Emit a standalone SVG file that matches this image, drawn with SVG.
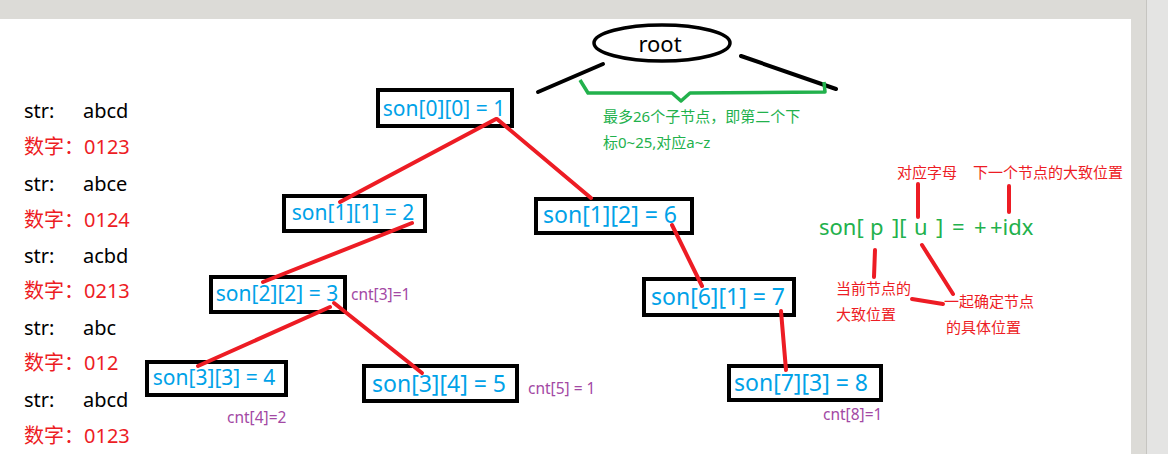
<svg xmlns="http://www.w3.org/2000/svg" width="1168" height="454" viewBox="0 0 1168 454">
<style>
.box{fill:#fff;stroke:#000;stroke-width:4}
.lbl{font-family:"Noto Sans","Noto Sans CJK SC",sans-serif;fill:#00a2e8;text-anchor:middle}
.red{stroke:#ed1c24;stroke-width:4;stroke-linecap:round;fill:none}
.blk{stroke:#000;stroke-width:4;stroke-linecap:round;fill:none}
.t{font-family:"Noto Sans","Noto Sans CJK SC",sans-serif}
.s{font-size:20px;fill:#000}
.n{font-size:20px;fill:#ed1c24}
.cnt{font-size:15.5px;fill:#a349a4}
.ann{font-size:15px;fill:#ed1c24}
.grn{fill:#22b14c}
</style>
<rect width="1168" height="454" fill="#fff"/>
<rect x="0" y="0" width="1168" height="19" fill="#dcdbd7"/>
<rect x="1131" y="0" width="16" height="454" fill="#dcdbd7"/>
<rect x="1147" y="0" width="21" height="454" fill="#e4e4e3"/>
<line x1="1146.5" y1="0" x2="1146.5" y2="454" stroke="#c6c5c1" stroke-width="1"/>

<g id="left-list" class="t">
<text x="24" y="118" class="s">str:</text><text x="83" y="118" class="s">abcd</text>
<text x="24" y="154" class="n">数字：</text><text x="84" y="154" class="n">0123</text>
<text x="24" y="191" class="s">str:</text><text x="83" y="191" class="s">abce</text>
<text x="24" y="227" class="n">数字：</text><text x="84" y="227" class="n">0124</text>
<text x="24" y="263" class="s">str:</text><text x="83" y="263" class="s">acbd</text>
<text x="24" y="298" class="n">数字：</text><text x="84" y="298" class="n">0213</text>
<text x="24" y="335" class="s">str:</text><text x="83" y="335" class="s">abc</text>
<text x="24" y="370" class="n">数字：</text><text x="84" y="370" class="n">012</text>
<text x="24" y="407" class="s">str:</text><text x="83" y="407" class="s">abcd</text>
<text x="24" y="443" class="n">数字：</text><text x="84" y="443" class="n">0123</text>
</g>

<g id="root">
<ellipse cx="662" cy="43" rx="68" ry="18" fill="#fff" stroke="#000" stroke-width="3.5"/>
<text x="660" y="52" class="t" font-size="22" text-anchor="middle" fill="#000">root</text>
</g>

<g id="root-branches">
<line class="blk" x1="603" y1="64" x2="538" y2="92"/>
<line class="blk" x1="741" y1="56" x2="836" y2="89"/>
<path d="M580 80 L588 93 L672 93 L681 101 L690 93 L825 92 L824 82" fill="none" stroke="#22b14c" stroke-width="3.5" stroke-linejoin="round"/>
<text x="603" y="122" class="t grn" font-size="15">最多26个子节点，即第二个下</text>
<text x="603" y="148" class="t grn" font-size="15">标0~25,对应a~z</text>
</g>

<g id="n1"><rect class="box" x="378" y="90" width="134" height="36"/><text class="lbl" x="444" y="116" font-size="21">son[0][0] = 1</text></g>
<g id="n2"><rect class="box" x="284" y="196" width="141" height="35"/><text class="lbl" x="353" y="220" font-size="21">son[1][1] = 2</text></g>
<g id="n6"><rect class="box" x="536" y="199" width="156" height="34"/><text class="lbl" x="610" y="223" font-size="23">son[1][2] = 6</text></g>
<g id="n3"><rect class="box" x="211" y="277" width="134" height="35"/><text class="lbl" x="277" y="301" font-size="21">son[2][2] = 3</text></g>
<g id="n4"><rect class="box" x="147" y="362" width="139" height="33"/><text class="lbl" x="214" y="385" font-size="21">son[3][3] = 4</text></g>
<g id="n5"><rect class="box" x="364" y="366" width="153" height="35"/><text class="lbl" x="439" y="392" font-size="23">son[3][4] = 5</text></g>
<g id="n7"><rect class="box" x="644" y="279" width="150" height="36"/><text class="lbl" x="718" y="305" font-size="23">son[6][1] = 7</text></g>
<g id="n8"><rect class="box" x="729" y="366" width="152" height="34"/><text class="lbl" x="801" y="391" font-size="23">son[7][3] = 8</text></g>

<g id="connectors">
<line class="red" x1="496" y1="119" x2="340" y2="202"/>
<line class="red" x1="497" y1="119" x2="591" y2="198"/>
<line class="red" x1="412" y1="223" x2="263" y2="282"/>
<line class="red" x1="330" y1="307" x2="198" y2="366"/>
<line class="red" x1="334" y1="303" x2="422" y2="373"/>
<line class="red" x1="672" y1="225" x2="702" y2="286"/>
<line class="red" x1="781" y1="311" x2="786" y2="370"/>
</g>

<g id="cnt-labels" class="t">
<text x="351" y="300" class="cnt">cnt[3]=1</text>
<text x="528" y="394" class="cnt">cnt[5] = 1</text>
<text x="227" y="423" class="cnt">cnt[4]=2</text>
<text x="823" y="420" class="cnt">cnt[8]=1</text>
</g>

<g id="formula" class="t">
<text x="819" y="235" font-size="22" class="grn">son[</text>
<text x="870" y="235" font-size="22" class="grn">p</text>
<text x="892" y="235" font-size="22" class="grn">][</text>
<text x="914" y="235" font-size="22" class="grn">u</text>
<text x="936" y="235" font-size="22" class="grn">]</text>
<text x="952" y="235" font-size="22" class="grn">=</text>
<text x="974" y="235" font-size="22" class="grn">+</text>
<text x="990" y="235" font-size="22" class="grn">+idx</text>
<text x="897" y="178" class="ann">对应字母</text>
<text x="973" y="178" class="ann">下一个节点的大致位置</text>
<text x="836" y="294" class="ann">当前节点的</text>
<text x="836" y="320" class="ann">大致位置</text>
<text x="944" y="307" class="ann">一起确定节点</text>
<text x="946" y="333" class="ann">的具体位置</text>
<line class="red" x1="918" y1="184" x2="918" y2="217"/>
<line class="red" x1="1009" y1="186" x2="1009" y2="212"/>
<line class="red" x1="875" y1="250" x2="874" y2="277"/>
<line class="red" x1="922" y1="245" x2="953" y2="294"/>
<line class="red" x1="912" y1="299" x2="943" y2="304"/>
</g>
</svg>
